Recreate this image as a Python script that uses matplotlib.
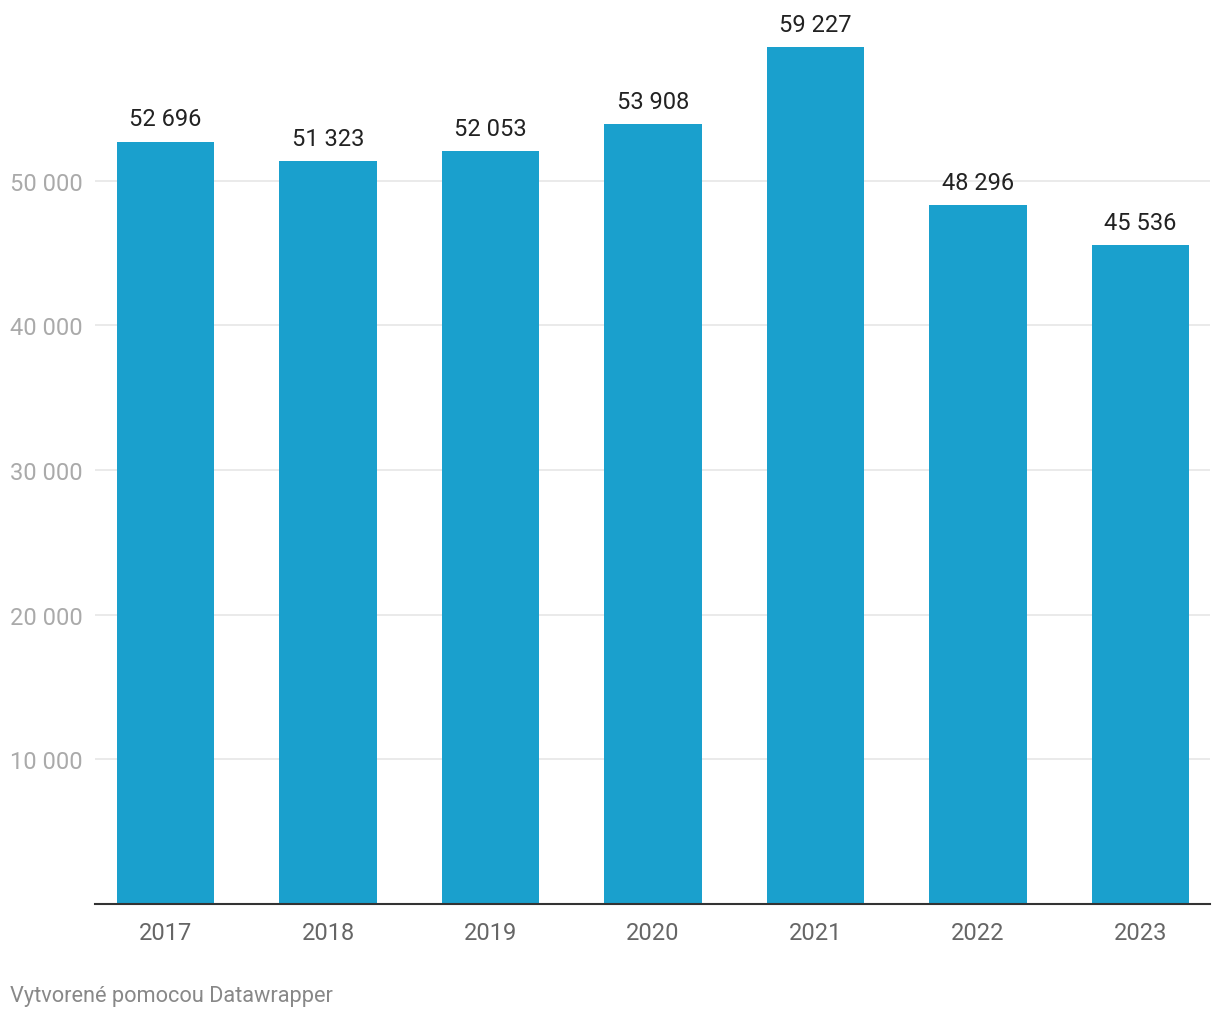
import matplotlib.pyplot as plt

plt.rcParams['font.family'] = ['Roboto', 'DejaVu Sans']

# Údaje
years = ['2017', '2018', '2019', '2020', '2021', '2022', '2023']
values = [52696, 51323, 52053, 53908, 59227, 48296, 45536]
y_ticks = [10000, 20000, 30000, 40000, 50000]


def fmt(v):
    return f'{v:,}'.replace(',', ' ')


fig = plt.figure(figsize=(12.2, 10.2), dpi=100)
ax = fig.add_axes([0.0779, 0.1127, 0.9139, 0.8795])

x = list(range(len(years)))
ax.bar(x, values, width=0.6, color='#1aa0cd', zorder=2)

for xi, v in zip(x, values):
    ax.annotate(fmt(v), (xi, v), xytext=(0, 8), textcoords='offset points',
                ha='center', va='bottom', fontsize=17, color='#222222')

ax.set_xlim(-0.434, 6.428)
ax.set_ylim(0, 62000)
ax.set_xticks(x)
ax.set_xticklabels(years, fontsize=17, color='#666666')
ax.set_yticks(y_ticks)
ax.set_yticklabels([fmt(t) for t in y_ticks], fontsize=17, color='#aaaaaa')
ax.tick_params(axis='both', length=0)
ax.tick_params(axis='x', pad=12)
ax.tick_params(axis='y', pad=9)
ax.grid(axis='y', color='#e6e6e6', linewidth=1.2, zorder=0)

for side in ['top', 'right', 'left']:
    ax.spines[side].set_visible(False)
ax.spines['bottom'].set_color('#333333')
ax.spines['bottom'].set_linewidth(1.5)
ax.spines['bottom'].set_zorder(3)

fig.text(10 / 1220, 1 - 997 / 1020, 'Vytvorené pomocou Datawrapper',
         fontsize=15.7, color='#888888', va='center', ha='left')

fig.savefig('out.png', dpi=100)
